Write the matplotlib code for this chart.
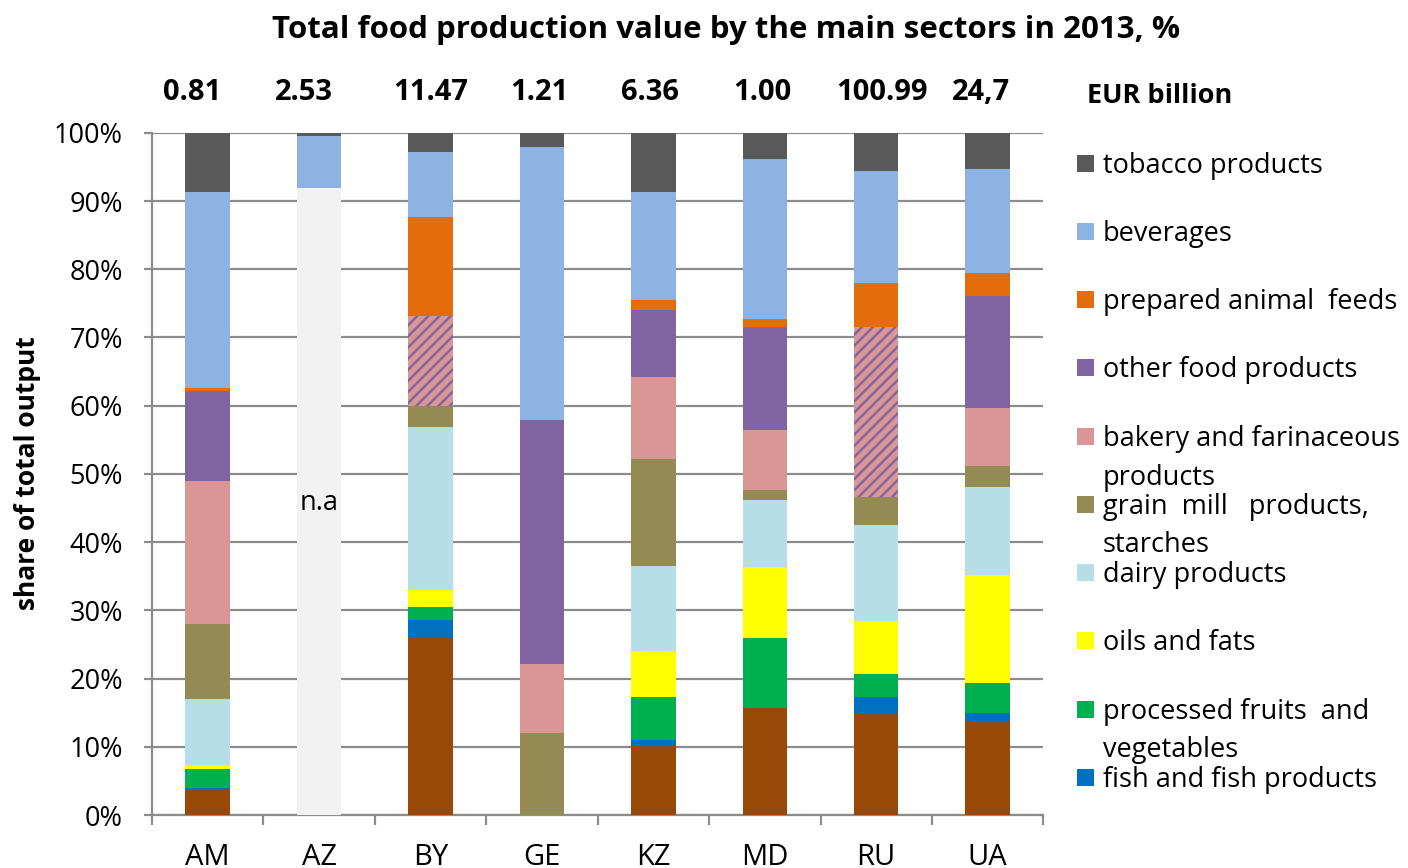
import numpy as np
import matplotlib.pyplot as plt
from matplotlib.patches import Rectangle

plt.rcParams['font.family'] = ['Open Sans', 'DejaVu Sans']
plt.rcParams['hatch.linewidth'] = 1.7

# ---------- data ----------
countries = ["AM", "AZ", "BY", "GE", "KZ", "MD", "RU", "UA"]
eur_billion = ["0.81", "2.53", "11.47", "1.21", "6.36", "1.00", "100.99", "24,7"]
label_dx = [-0.14, -0.14, 0.0, -0.02, -0.03, -0.02, 0.05, -0.06]

not_available = [0, 91.9, 0, 0, 0, 0, 0, 0]
meat = [3.8, 0, 26.0, 0, 10.3, 15.7, 15.0, 13.8]
fish = [0.2, 0, 2.6, 0, 0.7, 0, 2.3, 1.2]
fruits_veg = [2.7, 0, 1.9, 0, 6.3, 10.3, 3.4, 4.4]
oils_fats = [0.6, 0, 2.5, 0, 6.7, 10.4, 7.7, 15.8]
dairy = [9.7, 0, 23.9, 0, 12.5, 9.8, 14.1, 12.9]
grain_mill = [11.0, 0, 3.1, 12.0, 15.7, 1.5, 4.1, 3.1]
bakery = [21.0, 0, 0, 10.1, 12.0, 8.8, 0, 8.5]
other_food = [13.2, 0, 0, 35.8, 9.8, 15.1, 0, 16.4]
bakery_other = [0, 0, 13.2, 0, 0, 0, 25.0, 0]   # bakery + other food, not split
animal_feeds = [0.4, 0, 14.5, 0, 1.5, 1.1, 6.4, 3.4]
beverages = [28.7, 7.7, 9.5, 40.0, 15.8, 23.5, 16.4, 15.2]
tobacco = [8.7, 0.4, 2.8, 2.1, 8.7, 3.8, 5.6, 5.3]

legend_labels = ["tobacco products", "beverages", "prepared animal  feeds",
                 "other food products", "bakery and farinaceous\nproducts",
                 "grain  mill   products,\nstarches", "dairy products",
                 "oils and fats", "processed fruits  and\nvegetables",
                 "fish and fish products"]

# ---------- colours ----------
c_na = '#f2f2f2'
c_meat = '#984807'
c_fish = '#0070c0'
c_fruit = '#00b050'
c_oil = '#ffff00'
c_dairy = '#b7dde8'
c_grain = '#948a54'
c_bakery = '#d99694'
c_other = '#8064a2'
c_feed = '#e46c0a'
c_bev = '#8db3e2'
c_tob = '#595959'

stack = [
    (not_available, dict(color=c_na)),
    (meat, dict(color=c_meat)),
    (fish, dict(color=c_fish)),
    (fruits_veg, dict(color=c_fruit)),
    (oils_fats, dict(color=c_oil)),
    (dairy, dict(color=c_dairy)),
    (grain_mill, dict(color=c_grain)),
    (bakery, dict(color=c_bakery)),
    (other_food, dict(color=c_other)),
    (bakery_other, dict(facecolor=c_bakery, edgecolor=c_other, hatch='///', linewidth=0)),
    (animal_feeds, dict(color=c_feed)),
    (beverages, dict(color=c_bev)),
    (tobacco, dict(color=c_tob)),
]
legend_colors = [c_tob, c_bev, c_feed, c_other, c_bakery, c_grain, c_dairy,
                 c_oil, c_fruit, c_fish]

# ---------- plot ----------
fig = plt.figure(figsize=(14.08, 8.68), dpi=100)
ax = fig.add_axes([0.108, 0.061, 0.633, 0.786])

x = np.arange(len(countries))
bottom = np.zeros(len(countries))
for values, style in stack:
    values = np.array(values, dtype=float)
    ax.bar(x, values, 0.4, bottom=bottom, zorder=3, **style)
    bottom += values

ax.set_xlim(-0.5, len(countries) - 0.5)
ax.set_ylim(0, 100)
ax.set_yticks(np.arange(0, 101, 10))
ax.set_yticklabels([f"{v}%" for v in range(0, 101, 10)])
ax.yaxis.grid(True, color='#8c8c8c', linewidth=1.6, zorder=0)
ax.set_axisbelow(True)

ax.set_xticks(x)
ax.set_xticklabels(countries)
ax.set_xticks(np.arange(-0.5, len(countries)), minor=True)
ax.tick_params(axis='x', which='major', length=0, pad=20, labelsize=21)
ax.tick_params(axis='x', which='minor', length=7, width=1.6, color='#8c8c8c')
ax.tick_params(axis='y', length=6, width=1.6, color='#8c8c8c', pad=15, labelsize=19.5)

for side in ['top', 'right']:
    ax.spines[side].set_visible(False)
for side in ['left', 'bottom']:
    ax.spines[side].set_color('#8c8c8c')
    ax.spines[side].set_linewidth(1.6)

ax.text(1, 45.7, "n.a", ha='center', va='center', fontsize=19.5, zorder=4)

# totals above the bars
for i, val in enumerate(eur_billion):
    ax.text(i + label_dx[i], 105.9, val, ha='center', va='center',
            fontsize=21, fontweight='bold', clip_on=False)

fig.text(0.5156, 0.966, "Total food production value by the main sectors in 2013, %",
         ha='center', va='center', fontsize=22.5, fontweight='bold')
fig.text(0.0192, 0.455, "share of total output", rotation=90,
         ha='center', va='center', fontsize=19, fontweight='bold')
fig.text(1087 / 1408, 0.889, "EUR billion", ha='left', va='center',
         fontsize=19.5, fontweight='bold')

# legend drawn by hand so the wrapped entries keep their spacing
legend_y = [163, 231, 299, 367, 436, 504, 572, 640, 709, 777]
for lab, col, ypx in zip(legend_labels, legend_colors, legend_y):
    yf = 1 - ypx / 868
    fig.patches.append(Rectangle((1077 / 1408, yf - 9 / 868), 17 / 1408, 17 / 868,
                                 transform=fig.transFigure, facecolor=col,
                                 edgecolor='none'))
    fig.text(1103 / 1408, yf + 11 / 868, lab, ha='left', va='top', fontsize=19.5,
             linespacing=1.5)

plt.savefig("out.png", dpi=100)
